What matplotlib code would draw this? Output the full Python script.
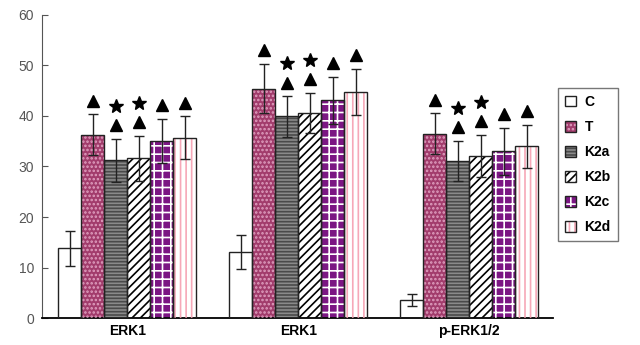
import numpy as np
import matplotlib.pyplot as plt
from matplotlib.patches import Patch
from matplotlib.legend_handler import HandlerTuple

plt.rcParams['font.family'] = ['Liberation Sans', 'DejaVu Sans']
plt.rcParams['hatch.linewidth'] = 1.2

groups = ["ERK1", "ERK1", "p-ERK1/2"]
series = ["C", "T", "K2a", "K2b", "K2c", "K2d"]

# mean values per series, one entry per group
C_vals = [13.8, 13.1, 3.5]
T_vals = [36.3, 45.4, 36.5]
K2a_vals = [31.2, 39.9, 31.1]
K2b_vals = [31.6, 40.6, 32.1]
K2c_vals = [35.0, 43.1, 33.0]
K2d_vals = [35.7, 44.7, 34.0]

# error bar half-length
C_err = [3.4, 3.3, 1.2]
T_err = [4.0, 4.9, 4.0]
K2a_err = [4.3, 4.0, 4.0]
K2b_err = [4.5, 4.0, 4.2]
K2c_err = [4.4, 4.6, 4.6]
K2d_err = [4.2, 4.6, 4.3]

# significance marks: triangle (vs C), star (vs T)
tri_marks = [False, True, True, True, True, True]
star_marks = [False, False, True, True, False, False]

values = [C_vals, T_vals, K2a_vals, K2b_vals, K2c_vals, K2d_vals]
errors = [C_err, T_err, K2a_err, K2b_err, K2c_err, K2d_err]

# fill, hatch, hatch colour
styles = [
    ("white", "", "black"),
    ("#a23c6c", "....", "#e0a0c0"),
    ("#8a8a8a", "-----", "#4a4a4a"),
    ("white", "////", "black"),
    ("#7b1683", "++", "white"),
    ("white", "|||", "#f6a8b8"),
]

fig = plt.figure(figsize=(6.4, 3.45), dpi=100)
ax = fig.add_axes([0.066, 0.078, 0.798, 0.879])

width = 1.0
group_start = [0.7, 8.13, 15.56]
handles = []
for i, name in enumerate(series):
    face, hatch, hcol = styles[i]
    x = np.array(group_start) + i * width + width / 2
    ax.bar(x, values[i], width, color=face, edgecolor="none", zorder=2)
    if hatch:
        ax.bar(x, values[i], width, color="none", edgecolor=hcol, hatch=hatch,
               linewidth=0, zorder=3)
    ax.bar(x, values[i], width, color="none", edgecolor="#222222", linewidth=1, zorder=4)
    ax.errorbar(x, values[i], yerr=errors[i], fmt="none", ecolor="#222222",
                elinewidth=1, capsize=3.5, capthick=1, zorder=5)
    top = np.array(values[i]) + np.array(errors[i])
    if tri_marks[i]:
        ax.plot(x, top + 2.7, "^", color="black", markersize=8, zorder=6)
    if star_marks[i]:
        ax.plot(x, top + 6.5, "*", color="black", markersize=10, zorder=6)
    h = [Patch(facecolor=face, edgecolor="none")]
    if hatch:
        h.append(Patch(facecolor="none", edgecolor=hcol, hatch=hatch, linewidth=0))
    h.append(Patch(facecolor="none", edgecolor="#222222", linewidth=1))
    handles.append(tuple(h))

ax.set_xlim(0, 22.2)
ax.set_ylim(0, 60)
ax.set_yticks(range(0, 61, 10))
ax.set_xticks([g + 3 for g in group_start])
ax.set_xticklabels(groups, fontweight="bold", fontsize=10)
ax.tick_params(axis="x", length=0, pad=4)
ax.tick_params(axis="y", direction="in", length=4, labelsize=10, labelcolor="#555555",
               color="#555555", pad=6)
ax.spines["top"].set_visible(False)
ax.spines["right"].set_visible(False)
ax.spines["left"].set_color("#555555")
ax.spines["bottom"].set_linewidth(1.3)

leg = fig.legend(handles, series, loc="upper left", bbox_to_anchor=(0.872, 0.745),
                 handler_map={tuple: HandlerTuple(ndivide=1, pad=0)},
                 frameon=True, fancybox=False, edgecolor="#555555",
                 prop={"weight": "bold", "size": 10}, handlelength=0.8,
                 handleheight=0.8, labelspacing=0.8, handletextpad=0.6,
                 borderpad=0.5, borderaxespad=0)
leg.get_frame().set_linewidth(1)

fig.savefig("out.png", dpi=100)
